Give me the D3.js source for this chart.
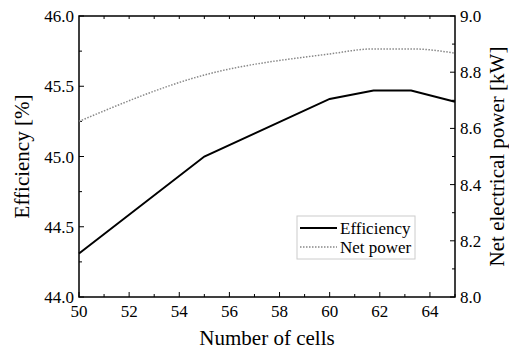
<!DOCTYPE html>
<html lang="en">
<head>
  <meta charset="UTF-8">
  <title>Efficiency and net power vs number of cells</title>
  <style>
    body { margin: 0; background: #fff; }
  </style>
</head>
<body>
  <svg id="chart" width="509" height="352"></svg>

  <script src="https://d3js.org/d3.v7.min.js"></script>
  <script>
    // data
    const cells = [50, 55, 60, 61.75, 63.25, 65];
    const efficiency = [44.31, 45.0, 45.41, 45.47, 45.47, 45.39];
    const netPower = [8.625, 8.79, 8.865, 8.883, 8.883, 8.868];

    const xTicks = [50, 52, 54, 56, 58, 60, 62, 64];
    const leftTicks = [44.0, 44.5, 45.0, 45.5, 46.0];
    const rightTicks = [8.0, 8.2, 8.4, 8.6, 8.8, 9.0];

    const FONT = 'Liberation Serif';

    const svg = d3.select('#chart');
    const margin = { left: 79, right: 54, top: 16, bottom: 55 };
    const width = +svg.attr('width');
    const height = +svg.attr('height');

    const x = d3.scaleLinear().domain([50, 65]).range([margin.left, width - margin.right]);
    const yL = d3.scaleLinear().domain([44, 46]).range([height - margin.bottom, margin.top]);
    const yR = d3.scaleLinear().domain([8, 9]).range([height - margin.bottom, margin.top]);

    const x0 = x.range()[0], x1 = x.range()[1];
    const y0 = yL.range()[0], y1 = yL.range()[1];

    // helper for inward tick marks
    function ticks(g, vals, fn) {
      g.selectAll('line').data(vals).enter().append('line')
        .attr('stroke', '#000').attr('stroke-width', 1)
        .each(function (d) { const c = fn(d); d3.select(this).attr('x1', c[0]).attr('y1', c[1]).attr('x2', c[2]).attr('y2', c[3]); });
    }

    const ax = svg.append('g');

    // bottom ticks (major every 2, minor every 1)
    ticks(ax.append('g'), d3.range(50, 66, 1), d => {
      const len = d % 2 === 0 ? 5 : 3;
      return [x(d), y0, x(d), y0 - len];
    });
    // top ticks
    ticks(ax.append('g'), d3.range(51, 65, 1), d => [x(d), y1, x(d), y1 + 3]);
    // left ticks
    ticks(ax.append('g'), d3.range(44, 46.01, 0.25), d => {
      const len = Math.abs(d * 2 - Math.round(d * 2)) < 1e-6 ? 5 : 3;
      return [x0, yL(d), x0 + len, yL(d)];
    });
    // right ticks
    ticks(ax.append('g'), d3.range(8, 9.01, 0.1), d => {
      const len = Math.round(d * 10) % 2 === 0 ? 5 : 3;
      return [x1, yR(d), x1 - len, yR(d)];
    });

    // frame
    svg.append('rect')
      .attr('x', x0).attr('y', y1)
      .attr('width', x1 - x0).attr('height', y0 - y1)
      .attr('fill', 'none').attr('stroke', '#000').attr('stroke-width', 1.5);

    // tick labels
    svg.append('g').selectAll('text').data(xTicks).enter().append('text')
      .attr('x', d => x(d)).attr('y', y0 + 20)
      .attr('text-anchor', 'middle').attr('font-size', 17).attr('font-family', FONT)
      .text(d => d);
    svg.append('g').selectAll('text').data(leftTicks).enter().append('text')
      .attr('x', x0 - 5).attr('y', d => yL(d) + 6)
      .attr('text-anchor', 'end').attr('font-size', 17).attr('font-family', FONT)
      .text(d => d.toFixed(1));
    svg.append('g').selectAll('text').data(rightTicks).enter().append('text')
      .attr('x', x1 + 5).attr('y', d => yR(d) + 6)
      .attr('text-anchor', 'start').attr('font-size', 17).attr('font-family', FONT)
      .text(d => d.toFixed(1));

    // axis titles
    svg.append('text')
      .attr('x', (x0 + x1) / 2).attr('y', 345)
      .attr('text-anchor', 'middle').attr('font-size', 21).attr('font-family', FONT)
      .text('Number of cells');
    svg.append('text')
      .attr('transform', `translate(29,${(y0 + y1) / 2}) rotate(-90)`)
      .attr('text-anchor', 'middle').attr('font-size', 21).attr('font-family', FONT)
      .text('Efficiency [%]');
    svg.append('text')
      .attr('transform', `translate(504,${(y0 + y1) / 2}) rotate(-90)`)
      .attr('text-anchor', 'middle').attr('font-size', 21).attr('font-family', FONT)
      .text('Net electrical power [kW]');

    // lines
    const effLine = d3.line().x((d, i) => x(cells[i])).y(d => yL(d));
    const powLine = d3.line().x((d, i) => x(cells[i])).y(d => yR(d)).curve(d3.curveMonotoneX);

    svg.append('path').datum(netPower)
      .attr('d', powLine)
      .attr('fill', 'none').attr('stroke', '#888').attr('stroke-width', 1.5)
      .attr('stroke-dasharray', '1.5,1.5');

    svg.append('path').datum(efficiency)
      .attr('d', effLine)
      .attr('fill', 'none').attr('stroke', '#000').attr('stroke-width', 2);

    // legend
    const lg = svg.append('g').attr('transform', 'translate(297,216)');
    lg.append('rect').attr('width', 118).attr('height', 43)
      .attr('fill', '#fff').attr('stroke', '#ccc').attr('stroke-width', 1);
    const items = [
      { name: 'Efficiency', color: '#000', dash: null, w: 2 },
      { name: 'Net power', color: '#888', dash: '1.5,1.5', w: 1.5 }
    ];
    items.forEach((it, i) => {
      const yy = 12 + i * 19;
      lg.append('line').attr('x1', 3).attr('x2', 40).attr('y1', yy).attr('y2', yy)
        .attr('stroke', it.color).attr('stroke-width', it.w)
        .attr('stroke-dasharray', it.dash);
      lg.append('text').attr('x', 43).attr('y', yy + 6)
        .attr('font-size', 17).attr('font-family', FONT).text(it.name);
    });
  </script>
</body>
</html>
